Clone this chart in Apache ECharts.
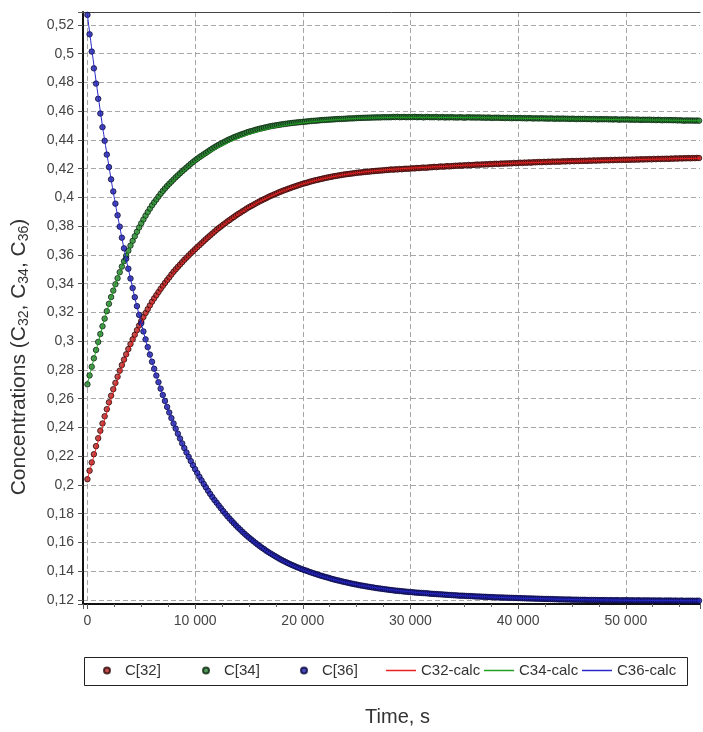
<!DOCTYPE html>
<html>
<head>
    <meta charset="utf-8">
    <title>Concentrations vs time</title>
    <script src="https://cdn.jsdelivr.net/npm/echarts@6/dist/echarts.min.js"></script>
    <style>html, body { margin: 0; padding: 0; background: #fff; }</style>
</head>
<body>
<div id="main" style="width: 703px;height:732px;"></div>
<script type="text/javascript">

    // measured points, one every 200 s
    var sampleTimes = [
        0, 200, 400, 600, 800, 1000, 1200, 1400, 1600, 1800,
        2000, 2200, 2400, 2600, 2800, 3000, 3200, 3400, 3600, 3800,
        4000, 4200, 4400, 4600, 4800, 5000, 5200, 5400, 5600, 5800,
        6000, 6200, 6400, 6600, 6800, 7000, 7200, 7400, 7600, 7800,
        8000, 8200, 8400, 8600, 8800, 9000, 9200, 9400, 9600, 9800,
        10000, 10200, 10400, 10600, 10800, 11000, 11200, 11400, 11600, 11800,
        12000, 12200, 12400, 12600, 12800, 13000, 13200, 13400, 13600, 13800,
        14000, 14200, 14400, 14600, 14800, 15000, 15200, 15400, 15600, 15800,
        16000, 16200, 16400, 16600, 16800, 17000, 17200, 17400, 17600, 17800,
        18000, 18200, 18400, 18600, 18800, 19000, 19200, 19400, 19600, 19800,
        20000, 20200, 20400, 20600, 20800, 21000, 21200, 21400, 21600, 21800,
        22000, 22200, 22400, 22600, 22800, 23000, 23200, 23400, 23600, 23800,
        24000, 24200, 24400, 24600, 24800, 25000, 25200, 25400, 25600, 25800,
        26000, 26200, 26400, 26600, 26800, 27000, 27200, 27400, 27600, 27800,
        28000, 28200, 28400, 28600, 28800, 29000, 29200, 29400, 29600, 29800,
        30000, 30200, 30400, 30600, 30800, 31000, 31200, 31400, 31600, 31800,
        32000, 32200, 32400, 32600, 32800, 33000, 33200, 33400, 33600, 33800,
        34000, 34200, 34400, 34600, 34800, 35000, 35200, 35400, 35600, 35800,
        36000, 36200, 36400, 36600, 36800, 37000, 37200, 37400, 37600, 37800,
        38000, 38200, 38400, 38600, 38800, 39000, 39200, 39400, 39600, 39800,
        40000, 40200, 40400, 40600, 40800, 41000, 41200, 41400, 41600, 41800,
        42000, 42200, 42400, 42600, 42800, 43000, 43200, 43400, 43600, 43800,
        44000, 44200, 44400, 44600, 44800, 45000, 45200, 45400, 45600, 45800,
        46000, 46200, 46400, 46600, 46800, 47000, 47200, 47400, 47600, 47800,
        48000, 48200, 48400, 48600, 48800, 49000, 49200, 49400, 49600, 49800,
        50000, 50200, 50400, 50600, 50800, 51000, 51200, 51400, 51600, 51800,
        52000, 52200, 52400, 52600, 52800, 53000, 53200, 53400, 53600, 53800,
        54000, 54200, 54400, 54600, 54800, 55000, 55200, 55400, 55600, 55800,
        56000, 56200, 56400, 56600, 56800
    ];

    var c32 = [
        0.2040, 0.2099, 0.2157, 0.2214, 0.2270, 0.2325, 0.2377, 0.2428, 0.2478, 0.2527,
        0.2575, 0.2621, 0.2666, 0.2710, 0.2753, 0.2795, 0.2834, 0.2872, 0.2909, 0.2945,
        0.2980, 0.3013, 0.3045, 0.3077, 0.3109, 0.3140, 0.3168, 0.3196, 0.3223, 0.3249,
        0.3275, 0.3298, 0.3320, 0.3342, 0.3364, 0.3385, 0.3405, 0.3425, 0.3444, 0.3464,
        0.3483, 0.3500, 0.3517, 0.3533, 0.3550, 0.3566, 0.3581, 0.3596, 0.3611, 0.3625,
        0.3640, 0.3654, 0.3668, 0.3682, 0.3696, 0.3710, 0.3723, 0.3736, 0.3749, 0.3762,
        0.3775, 0.3787, 0.3798, 0.3810, 0.3821, 0.3833, 0.3843, 0.3854, 0.3864, 0.3875,
        0.3885, 0.3894, 0.3904, 0.3913, 0.3923, 0.3932, 0.3940, 0.3948, 0.3957, 0.3965,
        0.3973, 0.3980, 0.3988, 0.3995, 0.4003, 0.4010, 0.4016, 0.4023, 0.4029, 0.4036,
        0.4042, 0.4048, 0.4053, 0.4059, 0.4064, 0.4070, 0.4075, 0.4080, 0.4085, 0.4090,
        0.4095, 0.4099, 0.4103, 0.4108, 0.4112, 0.4116, 0.4120, 0.4123, 0.4127, 0.4130,
        0.4134, 0.4137, 0.4140, 0.4143, 0.4146, 0.4149, 0.4151, 0.4154, 0.4156, 0.4159,
        0.4161, 0.4163, 0.4165, 0.4167, 0.4169, 0.4171, 0.4173, 0.4174, 0.4176, 0.4177,
        0.4179, 0.4180, 0.4182, 0.4183, 0.4185, 0.4186, 0.4187, 0.4188, 0.4190, 0.4191,
        0.4192, 0.4195, 0.4193, 0.4196, 0.4195, 0.4198, 0.4196, 0.4199, 0.4200, 0.4199,
        0.4201, 0.4203, 0.4202, 0.4205, 0.4204, 0.4206, 0.4208, 0.4206, 0.4208, 0.4210,
        0.4210, 0.4213, 0.4211, 0.4213, 0.4216, 0.4214, 0.4215, 0.4218, 0.4216, 0.4218,
        0.4219, 0.4221, 0.4220, 0.4223, 0.4221, 0.4224, 0.4223, 0.4226, 0.4224, 0.4226,
        0.4227, 0.4229, 0.4227, 0.4230, 0.4229, 0.4231, 0.4230, 0.4233, 0.4231, 0.4234,
        0.4234, 0.4233, 0.4236, 0.4235, 0.4237, 0.4236, 0.4238, 0.4237, 0.4240, 0.4238,
        0.4240, 0.4242, 0.4240, 0.4243, 0.4241, 0.4244, 0.4242, 0.4245, 0.4244, 0.4246,
        0.4246, 0.4245, 0.4248, 0.4246, 0.4249, 0.4247, 0.4250, 0.4248, 0.4250, 0.4249,
        0.4250, 0.4252, 0.4250, 0.4253, 0.4251, 0.4254, 0.4252, 0.4254, 0.4253, 0.4255,
        0.4254, 0.4256, 0.4254, 0.4257, 0.4255, 0.4258, 0.4256, 0.4258, 0.4257, 0.4259,
        0.4258, 0.4260, 0.4258, 0.4261, 0.4259, 0.4262, 0.4260, 0.4262, 0.4261, 0.4263,
        0.4261, 0.4263, 0.4262, 0.4264, 0.4262, 0.4265, 0.4263, 0.4266, 0.4264, 0.4266,
        0.4265, 0.4267, 0.4265, 0.4268, 0.4266, 0.4269, 0.4267, 0.4269, 0.4268, 0.4270,
        0.4268, 0.4271, 0.4269, 0.4272, 0.4270, 0.4273, 0.4271, 0.4273, 0.4272, 0.4274,
        0.4272, 0.4274, 0.4273, 0.4275, 0.4274
    ];

    var c34 = [
        0.2700, 0.2762, 0.2822, 0.2881, 0.2939, 0.2995, 0.3050, 0.3104, 0.3157, 0.3209,
        0.3260, 0.3307, 0.3352, 0.3396, 0.3438, 0.3480, 0.3519, 0.3557, 0.3594, 0.3630,
        0.3665, 0.3698, 0.3730, 0.3761, 0.3791, 0.3820, 0.3847, 0.3873, 0.3898, 0.3922,
        0.3945, 0.3966, 0.3986, 0.4006, 0.4026, 0.4045, 0.4062, 0.4079, 0.4095, 0.4110,
        0.4125, 0.4140, 0.4154, 0.4168, 0.4182, 0.4195, 0.4208, 0.4221, 0.4234, 0.4246,
        0.4258, 0.4269, 0.4280, 0.4290, 0.4300, 0.4310, 0.4320, 0.4330, 0.4340, 0.4349,
        0.4358, 0.4366, 0.4374, 0.4382, 0.4390, 0.4398, 0.4405, 0.4411, 0.4418, 0.4424,
        0.4430, 0.4436, 0.4441, 0.4446, 0.4452, 0.4457, 0.4461, 0.4465, 0.4470, 0.4474,
        0.4478, 0.4481, 0.4485, 0.4488, 0.4492, 0.4495, 0.4498, 0.4500, 0.4503, 0.4505,
        0.4508, 0.4510, 0.4512, 0.4514, 0.4516, 0.4518, 0.4520, 0.4521, 0.4523, 0.4524,
        0.4526, 0.4527, 0.4529, 0.4530, 0.4532, 0.4533, 0.4534, 0.4535, 0.4537, 0.4538,
        0.4539, 0.4540, 0.4541, 0.4542, 0.4543, 0.4544, 0.4545, 0.4546, 0.4546, 0.4547,
        0.4548, 0.4549, 0.4550, 0.4550, 0.4551, 0.4552, 0.4553, 0.4553, 0.4554, 0.4554,
        0.4555, 0.4555, 0.4556, 0.4556, 0.4557, 0.4557, 0.4557, 0.4558, 0.4558, 0.4558,
        0.4558, 0.4558, 0.4560, 0.4559, 0.4561, 0.4558, 0.4559, 0.4560, 0.4558, 0.4559,
        0.4560, 0.4559, 0.4561, 0.4558, 0.4559, 0.4560, 0.4557, 0.4559, 0.4560, 0.4558,
        0.4558, 0.4558, 0.4560, 0.4557, 0.4558, 0.4559, 0.4556, 0.4558, 0.4557, 0.4559,
        0.4557, 0.4557, 0.4556, 0.4558, 0.4557, 0.4555, 0.4557, 0.4558, 0.4556, 0.4557,
        0.4556, 0.4556, 0.4557, 0.4555, 0.4556, 0.4554, 0.4556, 0.4555, 0.4553, 0.4555,
        0.4554, 0.4555, 0.4553, 0.4554, 0.4552, 0.4554, 0.4553, 0.4551, 0.4553, 0.4552,
        0.4552, 0.4553, 0.4551, 0.4552, 0.4550, 0.4552, 0.4551, 0.4549, 0.4551, 0.4550,
        0.4550, 0.4551, 0.4549, 0.4550, 0.4548, 0.4550, 0.4549, 0.4547, 0.4549, 0.4548,
        0.4548, 0.4549, 0.4547, 0.4548, 0.4546, 0.4548, 0.4547, 0.4545, 0.4547, 0.4546,
        0.4546, 0.4547, 0.4545, 0.4546, 0.4544, 0.4546, 0.4545, 0.4543, 0.4545, 0.4544,
        0.4544, 0.4545, 0.4543, 0.4544, 0.4542, 0.4544, 0.4543, 0.4541, 0.4543, 0.4542,
        0.4542, 0.4543, 0.4541, 0.4542, 0.4540, 0.4542, 0.4541, 0.4539, 0.4541, 0.4540,
        0.4540, 0.4541, 0.4539, 0.4540, 0.4538, 0.4540, 0.4539, 0.4537, 0.4539, 0.4538,
        0.4538, 0.4538, 0.4537, 0.4538, 0.4536, 0.4537, 0.4536, 0.4534, 0.4536, 0.4535,
        0.4535, 0.4535, 0.4534, 0.4535, 0.4534
    ];

    var c36 = [
        0.5270, 0.5135, 0.5015, 0.4898, 0.4792, 0.4686, 0.4584, 0.4489, 0.4394, 0.4298,
        0.4211, 0.4126, 0.4042, 0.3957, 0.3876, 0.3797, 0.3720, 0.3646, 0.3574, 0.3504,
        0.3436, 0.3370, 0.3306, 0.3244, 0.3183, 0.3125, 0.3068, 0.3013, 0.2959, 0.2907,
        0.2857, 0.2808, 0.2761, 0.2715, 0.2670, 0.2626, 0.2584, 0.2543, 0.2504, 0.2465,
        0.2428, 0.2392, 0.2357, 0.2323, 0.2289, 0.2257, 0.2226, 0.2196, 0.2166, 0.2138,
        0.2110, 0.2083, 0.2057, 0.2032, 0.2007, 0.1984, 0.1960, 0.1938, 0.1916, 0.1895,
        0.1876, 0.1857, 0.1838, 0.1819, 0.1801, 0.1783, 0.1766, 0.1750, 0.1734, 0.1718,
        0.1703, 0.1689, 0.1674, 0.1660, 0.1647, 0.1634, 0.1622, 0.1610, 0.1598, 0.1586,
        0.1575, 0.1564, 0.1554, 0.1543, 0.1533, 0.1524, 0.1515, 0.1506, 0.1497, 0.1488,
        0.1480, 0.1472, 0.1465, 0.1457, 0.1450, 0.1443, 0.1437, 0.1430, 0.1424, 0.1418,
        0.1412, 0.1407, 0.1402, 0.1396, 0.1391, 0.1386, 0.1381, 0.1376, 0.1371, 0.1367,
        0.1362, 0.1358, 0.1354, 0.1349, 0.1345, 0.1341, 0.1337, 0.1334, 0.1330, 0.1326,
        0.1323, 0.1320, 0.1316, 0.1313, 0.1310, 0.1307, 0.1304, 0.1301, 0.1299, 0.1296,
        0.1293, 0.1291, 0.1288, 0.1286, 0.1283, 0.1281, 0.1279, 0.1277, 0.1275, 0.1273,
        0.1271, 0.1269, 0.1267, 0.1265, 0.1264, 0.1262, 0.1261, 0.1259, 0.1258, 0.1256,
        0.1255, 0.1254, 0.1252, 0.1251, 0.1250, 0.1249, 0.1248, 0.1247, 0.1246, 0.1244,
        0.1243, 0.1242, 0.1241, 0.1240, 0.1239, 0.1238, 0.1237, 0.1236, 0.1235, 0.1234,
        0.1233, 0.1232, 0.1231, 0.1230, 0.1230, 0.1229, 0.1228, 0.1227, 0.1227, 0.1226,
        0.1225, 0.1224, 0.1224, 0.1223, 0.1222, 0.1222, 0.1221, 0.1220, 0.1220, 0.1219,
        0.1218, 0.1218, 0.1217, 0.1217, 0.1216, 0.1216, 0.1215, 0.1215, 0.1214, 0.1214,
        0.1213, 0.1213, 0.1212, 0.1212, 0.1211, 0.1211, 0.1210, 0.1210, 0.1209, 0.1209,
        0.1208, 0.1208, 0.1207, 0.1207, 0.1207, 0.1206, 0.1206, 0.1205, 0.1205, 0.1204,
        0.1204, 0.1204, 0.1203, 0.1203, 0.1203, 0.1202, 0.1202, 0.1202, 0.1201, 0.1201,
        0.1201, 0.1201, 0.1200, 0.1200, 0.1200, 0.1200, 0.1200, 0.1199, 0.1199, 0.1199,
        0.1199, 0.1199, 0.1198, 0.1199, 0.1198, 0.1198, 0.1199, 0.1197, 0.1198, 0.1198,
        0.1198, 0.1198, 0.1197, 0.1198, 0.1197, 0.1197, 0.1198, 0.1196, 0.1197, 0.1197,
        0.1197, 0.1197, 0.1196, 0.1197, 0.1196, 0.1196, 0.1197, 0.1195, 0.1196, 0.1196,
        0.1196, 0.1196, 0.1195, 0.1196, 0.1195, 0.1195, 0.1196, 0.1194, 0.1195, 0.1195,
        0.1195, 0.1195, 0.1194, 0.1195, 0.1195
    ];

    // fitted (calc) curves, one value every 1000 s
    var calcTimes = [
        0, 1000, 2000, 3000, 4000, 5000, 6000, 7000, 8000, 9000,
        10000, 11000, 12000, 13000, 14000, 15000, 16000, 17000, 18000, 19000,
        20000, 21000, 22000, 23000, 24000, 25000, 26000, 27000, 28000, 29000,
        30000, 31000, 32000, 33000, 34000, 35000, 36000, 37000, 38000, 39000,
        40000, 41000, 42000, 43000, 44000, 45000, 46000, 47000, 48000, 49000,
        50000, 51000, 52000, 53000, 54000, 55000, 56000, 57000
    ];

    var c32calc = [
        0.2040, 0.2305, 0.2550, 0.2770, 0.2960, 0.3122, 0.3260, 0.3372, 0.3470, 0.3555,
        0.3630, 0.3702, 0.3768, 0.3828, 0.3881, 0.3929, 0.3971, 0.4008, 0.4040, 0.4068,
        0.4093, 0.4114, 0.4132, 0.4147, 0.4160, 0.4171, 0.4180, 0.4188, 0.4194, 0.4199,
        0.4204, 0.4208, 0.4212, 0.4216, 0.4220, 0.4224, 0.4227, 0.4230, 0.4233, 0.4236,
        0.4239, 0.4242, 0.4244, 0.4247, 0.4249, 0.4251, 0.4253, 0.4255, 0.4257, 0.4259,
        0.4261, 0.4263, 0.4265, 0.4266, 0.4268, 0.4270, 0.4271, 0.4273
    ];

    var c34calc = [
        0.2700, 0.2990, 0.3255, 0.3475, 0.3660, 0.3812, 0.3937, 0.4037, 0.4117, 0.4185,
        0.4245, 0.4295, 0.4340, 0.4378, 0.4411, 0.4438, 0.4461, 0.4480, 0.4495, 0.4508,
        0.4518, 0.4527, 0.4534, 0.4540, 0.4545, 0.4549, 0.4552, 0.4554, 0.4556, 0.4557,
        0.4557, 0.4557, 0.4557, 0.4556, 0.4556, 0.4555, 0.4555, 0.4554, 0.4553, 0.4552,
        0.4551, 0.4550, 0.4549, 0.4548, 0.4547, 0.4546, 0.4545, 0.4544, 0.4543, 0.4542,
        0.4541, 0.4540, 0.4539, 0.4538, 0.4537, 0.4536, 0.4535, 0.4534
    ];

    var c36calc = [
        0.5270, 0.4704, 0.4216, 0.3797, 0.3436, 0.3125, 0.2857, 0.2626, 0.2428, 0.2257,
        0.2110, 0.1984, 0.1875, 0.1781, 0.1700, 0.1630, 0.1571, 0.1520, 0.1476, 0.1439,
        0.1408, 0.1382, 0.1359, 0.1339, 0.1322, 0.1307, 0.1294, 0.1283, 0.1273, 0.1264,
        0.1257, 0.1250, 0.1244, 0.1239, 0.1234, 0.1229, 0.1225, 0.1222, 0.1219, 0.1216,
        0.1213, 0.1211, 0.1209, 0.1207, 0.1205, 0.1203, 0.1202, 0.1201, 0.1200, 0.1199,
        0.1198, 0.1197, 0.1197, 0.1196, 0.1196, 0.1195, 0.1195, 0.1195
    ];

    var myChart = echarts.init(document.getElementById('main'));
    var font = 'Liberation Sans, Arial, sans-serif';
    var xMin = -410, xMax = 56890;

    function pairs(ts, vs) {
        return ts.map(function (t, i) { return [t, vs[i]]; });
    }

    // legend: one component per entry so the columns sit where the original has them
    function legendAt(name, left, extra) {
        return Object.assign({
            data: [name], left: left, top: 663,
            orient: 'horizontal', padding: 0, itemGap: 0, selectedMode: false,
            textStyle: { fontSize: 15, color: '#333', fontFamily: font }
        }, extra);
    }
    var dotLegend = {
        icon: 'circle', itemWidth: 6, itemHeight: 6,
        textStyle: { fontSize: 15, color: '#333', fontFamily: font, padding: [0, 0, 0, 10] }
    };
    var lineLegend = { icon: 'rect', itemWidth: 30, itemHeight: 1.5 };

    var option = {
        animation: false,
        backgroundColor: '#fff',
        grid: { left: 83, top: 12, right: 0, bottom: 127 },
        xAxis: [{
            type: 'value',
            min: xMin,
            max: xMax,
            splitNumber: 5,
            name: 'Time, s',
            nameLocation: 'middle',
            nameGap: 103,
            nameTextStyle: { fontSize: 20, color: '#333', fontFamily: font, padding: [0, 0, 0, 12] },
            axisLine: { lineStyle: { color: '#111', width: 2 } },
            axisTick: { length: 5, lineStyle: { color: '#555' } },
            minorTick: { show: true, splitNumber: 4, length: 3, lineStyle: { color: '#666' } },
            axisLabel: {
                margin: 10, fontSize: 14, color: '#444', fontFamily: font,
                formatter: function (v) {
                    var r = Math.round(v);
                    if (Math.abs(v - r) > 1e-6 || r % 10000 !== 0) return '';
                    return r === 0 ? '0' : (r / 1000) + ' 000';
                }
            },
            splitLine: {
                show: true, showMinLine: false, showMaxLine: false,
                lineStyle: { color: '#a6a6a6', type: [5, 3], width: 1 }
            }
        }, {
            // plain frame line along the top of the plot
            type: 'value', position: 'top', min: xMin, max: xMax,
            axisLine: { show: true, onZero: false, lineStyle: { color: '#444', width: 1 } },
            axisTick: { show: false }, axisLabel: { show: false }, splitLine: { show: false }
        }],
        yAxis: {
            type: 'value',
            min: 0.1172,
            max: 0.529,
            splitNumber: 20,
            axisLine: { show: true, onZero: false, lineStyle: { color: '#111', width: 2 } },
            axisTick: { show: true, length: 5, lineStyle: { color: '#555' } },
            axisLabel: {
                margin: 9, fontSize: 14, color: '#444', fontFamily: font,
                formatter: function (v) {
                    var r = Math.round(v * 100);
                    if (Math.abs(v * 100 - r) > 1e-6 || r % 2 !== 0) return '';
                    return String(r / 100).replace('.', ',');
                }
            },
            splitLine: {
                show: true, showMinLine: false, showMaxLine: false,
                lineStyle: { color: '#a6a6a6', type: [5, 3], width: 1 }
            }
        },
        legend: [
            legendAt('C[32]', 103, dotLegend),
            legendAt('C[34]', 202, dotLegend),
            legendAt('C[36]', 300, dotLegend),
            legendAt('C32-calc', 386, lineLegend),
            legendAt('C34-calc', 484, lineLegend),
            legendAt('C36-calc', 582, lineLegend)
        ],
        graphic: [
            {
                type: 'rect', z: 0,
                shape: { x: 84.5, y: 657.5, width: 603, height: 28 },
                style: { fill: '#fff', stroke: '#222', lineWidth: 1 }
            },
            {
                type: 'text', x: 20, y: 357, rotation: Math.PI / 2,
                style: {
                    text: '{n|Concentrations (C}{s|32}{n|, C}{s|34}{n|, C}{s|36}{n|)}',
                    align: 'center', verticalAlign: 'middle', fill: '#333',
                    rich: {
                        n: { fontSize: 21, fontFamily: font, lineHeight: 23, verticalAlign: 'top', fill: '#333' },
                        s: { fontSize: 14, fontFamily: font, lineHeight: 14, padding: [11, 0, 0, 0], verticalAlign: 'bottom', fill: '#333' }
                    }
                }
            }
        ],
        series: [
            {
                name: 'C[32]', type: 'scatter', symbol: 'circle', symbolSize: 5.5, z: 2,
                itemStyle: { color: '#b42222', borderColor: '#300808', borderWidth: 1 },
                data: pairs(sampleTimes, c32)
            },
            {
                name: 'C[34]', type: 'scatter', symbol: 'circle', symbolSize: 5.5, z: 2,
                itemStyle: { color: '#2a7f34', borderColor: '#0a280e', borderWidth: 1 },
                data: pairs(sampleTimes, c34)
            },
            {
                name: 'C[36]', type: 'scatter', symbol: 'circle', symbolSize: 5.5, z: 2,
                itemStyle: { color: '#1f1fa8', borderColor: '#080840', borderWidth: 1 },
                data: pairs(sampleTimes, c36)
            },
            {
                name: 'C32-calc', type: 'line', smooth: true, symbol: 'none', z: 3,
                itemStyle: { color: '#e82020' },
                lineStyle: { color: '#e82020', width: 1 },
                data: pairs(calcTimes, c32calc)
            },
            {
                name: 'C34-calc', type: 'line', smooth: true, symbol: 'none', z: 3,
                itemStyle: { color: '#22a022' },
                lineStyle: { color: '#22a022', width: 1 },
                data: pairs(calcTimes, c34calc)
            },
            {
                name: 'C36-calc', type: 'line', smooth: true, symbol: 'none', z: 3,
                itemStyle: { color: '#2828c8' },
                lineStyle: { color: '#2828c8', width: 1 },
                data: pairs(calcTimes, c36calc)
            }
        ]
    };

    myChart.setOption(option);

</script>
</body>
</html>
